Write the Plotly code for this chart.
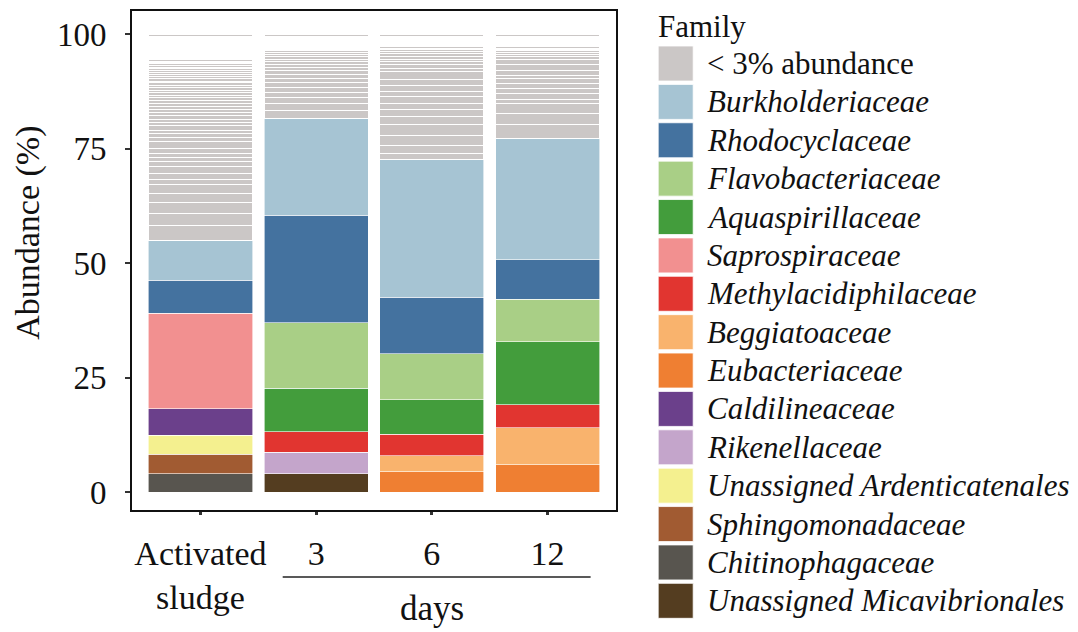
import plotly.graph_objects as go

# ---------------- data ----------------
categories = ["Activated<br>sludge", "3", "6", "12"]

legend_families = [
    "< 3% abundance", "Burkholderiaceae", "Rhodocyclaceae", "Flavobacteriaceae",
    "Aquaspirillaceae", "Saprospiraceae", "Methylacidiphilaceae", "Beggiatoaceae",
    "Eubacteriaceae", "Caldilineaceae", "Rikenellaceae", "Unassigned Ardenticatenales",
    "Sphingomonadaceae", "Chitinophagaceae", "Unassigned Micavibrionales",
]
legend_colors = [
    "#CBC7C6", "#A6C4D3", "#44729F", "#A9CF86", "#439D3C", "#F29090", "#E13530",
    "#F9B36D", "#EF7F32", "#6B408B", "#C4A5CB", "#F4F08F", "#A15B32", "#58554F", "#543D20",
]

# abundance (%) per sample: Activated sludge, 3 d, 6 d, 12 d
burkholderiaceae = [8.7, 21.1, 30.0, 26.5]
rhodocyclaceae = [7.2, 23.5, 12.3, 8.6]
flavobacteriaceae = [0, 14.3, 10.1, 9.3]
aquaspirillaceae = [0, 9.5, 7.5, 13.8]
saprospiraceae = [20.9, 0, 0, 0]
methylacidiphilaceae = [0, 4.5, 4.7, 5.0]
beggiatoaceae = [0, 0, 3.5, 8.1]
eubacteriaceae = [0, 0, 4.5, 6.0]
caldilineaceae = [5.7, 0, 0, 0]
rikenellaceae = [0, 4.6, 0, 0]
unassigned_ardenticatenales = [4.2, 0, 0, 0]
sphingomonadaceae = [4.2, 0, 0, 0]
chitinophagaceae = [4.1, 0, 0, 0]
unassigned_micavibrionales = [0, 4.1, 0, 0]

# families below 3% abundance (bottom -> top of each bar)
minor_activated = [
    3.3, 2.6, 2.3, 2.0, 1.9, 1.2, 1.3, 1.5, 1.1, 1.0, 0.8, 1.0, 1.5, 0.9,
    0.9, 0.8, 0.9, 0.7, 0.8, 0.7, 0.8, 0.6, 0.7, 0.6, 0.7, 0.6, 0.5, 0.6, 0.5, 0.5,
    0.6, 0.5, 0.4, 0.5, 0.5, 0.4, 0.4,
    0.45, 0.4, 0.4, 0.35, 0.35, 0.3, 0.3, 0.3, 0.25, 0.25, 0.25, 0.2, 0.2, 0.2,
    0.1, 0.1, 0.1, 0.1, 0.1, 0.1, 0.1, 0.1, 0.1, 0.1, 0.1, 0.1, 0.1, 0.1, 0.1, 0.1,
    0.1, 0.1, 0.1, 0.1, 0.1, 0.1, 0.1, 0.1, 0.1, 0.1, 0.1, 0.1, 0.1, 0.1, 0.1, 0.1,
    0.1, 0.1, 0.1, 0.1, 0.1,
    0.5,
]
minor_day3 = [
    1.7, 1.5, 1.3, 1.2, 1.1, 1.0, 0.9, 0.9, 0.8, 0.7, 0.7, 0.6, 0.6, 0.5, 0.5,
    0.4, 0.4, 0.3, 0.3, 0.2, 0.2, 0.15, 0.15,
    0.1, 0.1, 0.1, 0.1, 0.1, 0.1, 0.1, 0.1, 0.1, 0.1, 0.1, 0.1, 0.1, 0.1, 0.1, 0.1,
    0.1, 0.1,
    0.5,
]
minor_day6 = [
    1.4, 1.8, 2.2, 2.2, 1.8, 1.5, 1.4, 1.5, 1.1, 1.4, 1.3, 1.6,
    0.8, 0.7, 0.7, 0.6, 0.6, 0.5, 0.5, 0.4, 0.4, 0.3, 0.3, 0.2, 0.2,
    0.1, 0.1, 0.1, 0.1, 0.1, 0.1, 0.1, 0.1, 0.1, 0.1, 0.1, 0.1, 0.1, 0.1, 0.1,
    0.5,
]
minor_day12 = [
    2.9, 2.6, 2.0, 0.9, 1.4, 1.1, 1.1, 1.1, 0.7, 1.1, 1.1, 1.1, 0.7,
    0.5, 0.4, 0.4, 0.3, 0.3, 0.25, 0.2, 0.15, 0.1,
    0.1, 0.1, 0.1, 0.1, 0.1, 0.1, 0.1, 0.1, 0.1, 0.1, 0.1, 0.1, 0.1, 0.1, 0.1, 0.1,
    0.1, 0.1,
    0.5,
]

# stacking order of the named families, bottom -> top
stack_order = [
    ("Unassigned Micavibrionales", unassigned_micavibrionales),
    ("Chitinophagaceae", chitinophagaceae),
    ("Sphingomonadaceae", sphingomonadaceae),
    ("Unassigned Ardenticatenales", unassigned_ardenticatenales),
    ("Rikenellaceae", rikenellaceae),
    ("Caldilineaceae", caldilineaceae),
    ("Eubacteriaceae", eubacteriaceae),
    ("Beggiatoaceae", beggiatoaceae),
    ("Methylacidiphilaceae", methylacidiphilaceae),
    ("Saprospiraceae", saprospiraceae),
    ("Aquaspirillaceae", aquaspirillaceae),
    ("Flavobacteriaceae", flavobacteriaceae),
    ("Rhodocyclaceae", rhodocyclaceae),
    ("Burkholderiaceae", burkholderiaceae),
]

# ---------------- figure ----------------
W, H = 1078, 632
PL, PR, PT, PB = 131.2, 617.3, 10, 515   # plot area (px); x axis line at PB
PANEL_BOTTOM = 511
FONT = "Liberation Serif, Times New Roman, serif"
color_of = dict(zip(legend_families, legend_colors))


def paper_x(px):
    return (px - PL) / (PR - PL)


def paper_y(py):
    return (PB - py) / (PB - PT)


fig = go.Figure()

for name, vals in stack_order:
    fig.add_trace(go.Bar(
        x=categories, y=[v if v > 0 else None for v in vals], name=name,
        marker=dict(color=color_of[name], line=dict(color="white", width=0.6)),
        showlegend=False,
    ))

minor_lists = [minor_activated, minor_day3, minor_day6, minor_day12]
n_minor = max(len(m) for m in minor_lists)
for k in range(n_minor):
    yk = [m[k] if k < len(m) else None for m in minor_lists]
    fig.add_trace(go.Bar(
        x=categories, y=yk, name="< 3% abundance",
        marker=dict(color=color_of["< 3% abundance"], line=dict(color="white", width=1.0)),
        showlegend=False,
    ))

shapes = []
annotations = []

# panel border
shapes.append(dict(type="rect", xref="paper", yref="paper",
                   x0=0, x1=1, y0=paper_y(PANEL_BOTTOM), y1=1,
                   line=dict(color="#111111", width=2), fillcolor="rgba(0,0,0,0)", layer="above"))

# "days" bracket line under 3..12
shapes.append(dict(type="line", xref="x", yref="paper",
                   x0=0.711, x1=3.372, y0=paper_y(577), y1=paper_y(577),
                   line=dict(color="#222222", width=1.5)))
annotations.append(dict(text="days", xref="x", yref="paper", x=2, y=paper_y(608),
                        xanchor="center", yanchor="middle", showarrow=False,
                        font=dict(family=FONT, size=35, color="#111111")))

# y-axis title
annotations.append(dict(text="Abundance (%)", xref="paper", yref="paper",
                        x=paper_x(28), y=paper_y(233), textangle=-90,
                        xanchor="center", yanchor="middle", showarrow=False,
                        font=dict(family=FONT, size=34, color="#111111")))

# legend (drawn manually to get large swatches)
annotations.append(dict(text="Family", xref="paper", yref="paper",
                        x=paper_x(656), y=paper_y(26), xanchor="left", yanchor="middle",
                        showarrow=False, font=dict(family=FONT, size=31, color="#111111")))
BOX_TOP, PITCH, BOX = 46.0, 38.38, 35.0
for i, (fam, col) in enumerate(zip(legend_families, legend_colors)):
    top = BOX_TOP + i * PITCH
    shapes.append(dict(type="rect", xref="paper", yref="paper",
                       x0=paper_x(658.5), x1=paper_x(658.5 + BOX),
                       y0=paper_y(top + BOX), y1=paper_y(top),
                       fillcolor=col, line=dict(color="white", width=0.8)))
    label = fam if fam.startswith("<") else "<i>" + fam + "</i>"
    annotations.append(dict(text=label, xref="paper", yref="paper",
                            x=paper_x(705), y=paper_y(top + BOX / 2),
                            xanchor="left", yanchor="middle", showarrow=False,
                            font=dict(family=FONT, size=31, color="#111111")))

fig.update_layout(
    width=W, height=H,
    margin=dict(l=PL, r=W - PR, t=PT, b=H - PB, pad=0),
    barmode="stack", bargap=0.1,
    paper_bgcolor="white", plot_bgcolor="white",
    font=dict(family=FONT, color="#111111"),
    showlegend=False,
    shapes=shapes, annotations=annotations,
    xaxis=dict(
        type="category", range=[-0.6, 3.6], showgrid=False, zeroline=False,
        showline=False, ticks="outside", ticklen=3, tickwidth=3, tickcolor="#333333",
        tickfont=dict(family=FONT, size=34, color="#111111"),
        ticklabelstandoff=9,
    ),
    yaxis=dict(
        domain=[(PB - PANEL_BOTTOM) / (PB - PT), 1],
        range=[-4.08, 105.3], showgrid=False, zeroline=False, showline=False,
        tickvals=[0, 25, 50, 75, 100], ticktext=["0", "25", "50", "75", "100"],
        ticks="outside", ticklen=5, tickwidth=2, tickcolor="#333333",
        tickfont=dict(family=FONT, size=33, color="#111111"),
        ticklabelstandoff=12,
    ),
)

fig.write_html("out.html")
